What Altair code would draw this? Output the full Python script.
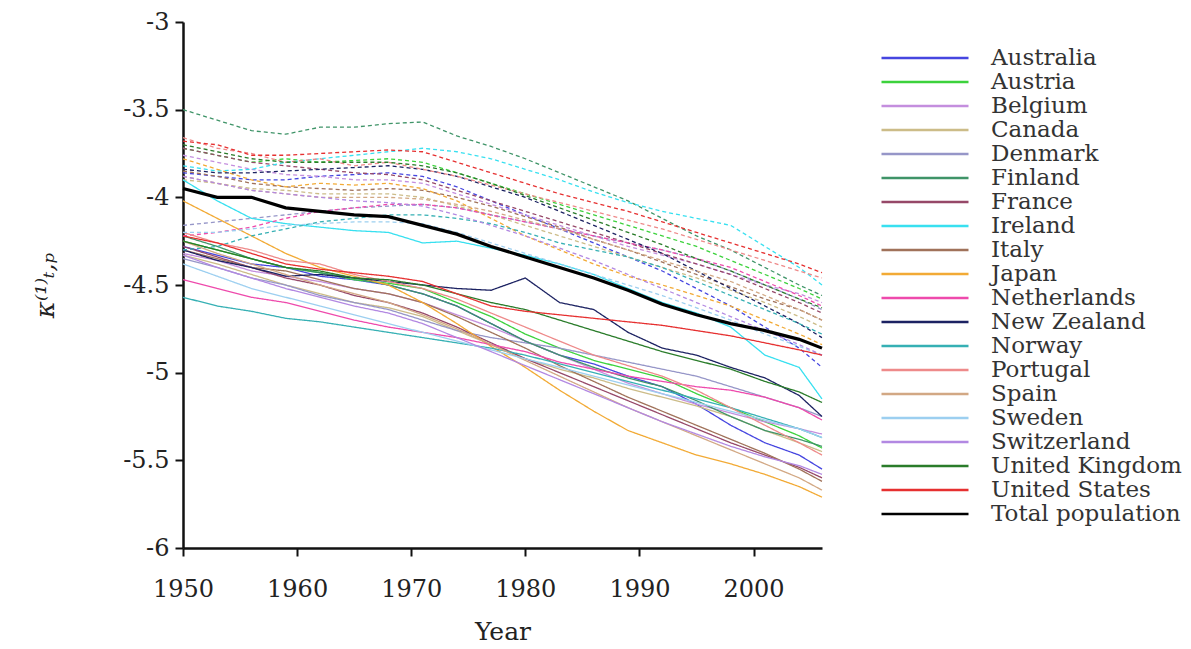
import altair as alt
import pandas as pd

YEARS = [1950, 1953, 1956, 1959, 1962, 1965, 1968, 1971, 1974, 1977,
         1980, 1983, 1986, 1989, 1992, 1995, 1998, 2001, 2004, 2006]

COUNTRIES = ["Australia", "Austria", "Belgium", "Canada", "Denmark", "Finland",
             "France", "Ireland", "Italy", "Japan", "Netherlands", "New Zealand",
             "Norway", "Portugal", "Spain", "Sweden", "Switzerland",
             "United Kingdom", "United States"]
TOTAL = "Total population"
COLORS = ["#4646e0", "#3cd23c", "#c48ede", "#ccbc88", "#9696c8", "#3f9468",
          "#964868", "#38e0f0", "#a0725a", "#f2aa35", "#ee4aac", "#1c2262",
          "#36b0b4", "#ee8a8a", "#d2a884", "#9ccff0", "#b288e2",
          "#2a7c2a", "#e63030", "#000000"]

# female (solid) series
australia_f = [-4.28, -4.33, -4.38, -4.40, -4.45, -4.47, -4.50, -4.55, -4.62, -4.72, -4.82, -4.90, -4.95, -5.02, -5.08, -5.18, -5.30, -5.40, -5.47, -5.55]
austria_f = [-4.25, -4.30, -4.35, -4.40, -4.43, -4.47, -4.49, -4.52, -4.60, -4.68, -4.78, -4.86, -4.93, -4.98, -5.03, -5.12, -5.20, -5.28, -5.36, -5.43]
belgium_f = [-4.32, -4.36, -4.42, -4.45, -4.48, -4.52, -4.55, -4.60, -4.67, -4.74, -4.82, -4.90, -4.98, -5.06, -5.12, -5.18, -5.23, -5.28, -5.32, -5.35]
canada_f = [-4.33, -4.38, -4.44, -4.50, -4.55, -4.60, -4.63, -4.68, -4.76, -4.84, -4.92, -4.98, -5.03, -5.09, -5.14, -5.19, -5.25, -5.33, -5.40, -5.45]
denmark_f = [-4.35, -4.40, -4.46, -4.50, -4.56, -4.60, -4.64, -4.70, -4.76, -4.80, -4.83, -4.86, -4.90, -4.94, -4.98, -5.02, -5.08, -5.14, -5.20, -5.25]
finland_f = [-4.22, -4.28, -4.35, -4.40, -4.43, -4.46, -4.50, -4.55, -4.62, -4.72, -4.82, -4.90, -4.97, -5.03, -5.08, -5.16, -5.25, -5.33, -5.38, -5.42]
france_f = [-4.28, -4.34, -4.40, -4.46, -4.50, -4.56, -4.60, -4.66, -4.74, -4.83, -4.92, -5.00, -5.08, -5.16, -5.24, -5.32, -5.40, -5.47, -5.54, -5.60]
ireland_f = [-3.90, -4.02, -4.12, -4.15, -4.17, -4.19, -4.20, -4.26, -4.25, -4.29, -4.33, -4.38, -4.44, -4.52, -4.60, -4.66, -4.74, -4.90, -4.97, -5.15]
italy_f = [-4.30, -4.35, -4.40, -4.42, -4.47, -4.52, -4.55, -4.60, -4.68, -4.77, -4.86, -4.96, -5.05, -5.14, -5.22, -5.30, -5.38, -5.46, -5.55, -5.62]
japan_f = [-4.02, -4.12, -4.22, -4.32, -4.40, -4.45, -4.50, -4.60, -4.72, -4.85, -4.97, -5.10, -5.22, -5.33, -5.40, -5.47, -5.52, -5.58, -5.65, -5.71]
netherlands_f = [-4.47, -4.52, -4.57, -4.60, -4.65, -4.70, -4.74, -4.77, -4.80, -4.84, -4.88, -4.94, -4.98, -5.02, -5.05, -5.08, -5.10, -5.14, -5.20, -5.27]
new_zealand_f = [-4.30, -4.36, -4.40, -4.45, -4.44, -4.46, -4.48, -4.50, -4.52, -4.53, -4.46, -4.60, -4.64, -4.77, -4.86, -4.90, -4.97, -5.03, -5.13, -5.25]
norway_f = [-4.57, -4.62, -4.65, -4.69, -4.71, -4.74, -4.77, -4.80, -4.83, -4.86, -4.90, -4.95, -5.00, -5.05, -5.10, -5.15, -5.20, -5.26, -5.32, -5.37]
portugal_f = [-4.20, -4.26, -4.30, -4.36, -4.38, -4.44, -4.48, -4.52, -4.58, -4.66, -4.74, -4.82, -4.90, -4.96, -5.02, -5.10, -5.20, -5.30, -5.40, -5.47]
spain_f = [-4.25, -4.32, -4.38, -4.44, -4.50, -4.55, -4.60, -4.67, -4.75, -4.84, -4.93, -5.02, -5.11, -5.20, -5.28, -5.36, -5.44, -5.52, -5.60, -5.67]
sweden_f = [-4.38, -4.45, -4.52, -4.57, -4.62, -4.67, -4.72, -4.77, -4.82, -4.87, -4.92, -4.97, -5.02, -5.07, -5.12, -5.17, -5.22, -5.27, -5.32, -5.37]
switzerland_f = [-4.33, -4.40, -4.46, -4.52, -4.57, -4.62, -4.66, -4.72, -4.80, -4.88, -4.96, -5.04, -5.12, -5.20, -5.28, -5.35, -5.42, -5.48, -5.53, -5.58]
uk_f = [-4.25, -4.30, -4.35, -4.40, -4.42, -4.46, -4.47, -4.50, -4.55, -4.60, -4.64, -4.70, -4.76, -4.82, -4.88, -4.93, -4.98, -5.05, -5.11, -5.17]
us_f = [-4.22, -4.26, -4.32, -4.38, -4.41, -4.43, -4.45, -4.48, -4.55, -4.62, -4.65, -4.67, -4.69, -4.71, -4.73, -4.76, -4.79, -4.83, -4.87, -4.90]

# male (dashed) series
australia_m = [-3.86, -3.88, -3.90, -3.90, -3.88, -3.87, -3.86, -3.88, -3.94, -4.02, -4.10, -4.18, -4.26, -4.34, -4.42, -4.52, -4.62, -4.74, -4.86, -4.97]
austria_m = [-3.72, -3.76, -3.80, -3.78, -3.80, -3.79, -3.78, -3.80, -3.86, -3.92, -3.98, -4.04, -4.10, -4.16, -4.22, -4.28, -4.36, -4.44, -4.52, -4.58]
belgium_m = [-3.76, -3.80, -3.84, -3.87, -3.88, -3.90, -3.90, -3.92, -3.98, -4.04, -4.10, -4.16, -4.22, -4.28, -4.33, -4.38, -4.44, -4.50, -4.55, -4.60]
canada_m = [-3.90, -3.92, -3.95, -3.96, -3.98, -3.98, -3.98, -4.00, -4.05, -4.10, -4.16, -4.22, -4.28, -4.34, -4.40, -4.46, -4.53, -4.60, -4.68, -4.74]
denmark_m = [-4.16, -4.14, -4.12, -4.10, -4.08, -4.06, -4.05, -4.04, -4.06, -4.10, -4.14, -4.18, -4.22, -4.26, -4.30, -4.35, -4.42, -4.50, -4.58, -4.64]
finland_m = [-3.50, -3.56, -3.62, -3.64, -3.60, -3.60, -3.58, -3.57, -3.65, -3.71, -3.78, -3.86, -3.94, -4.02, -4.12, -4.22, -4.30, -4.40, -4.50, -4.56]
france_m = [-3.72, -3.76, -3.80, -3.82, -3.84, -3.86, -3.87, -3.90, -3.96, -4.02, -4.08, -4.14, -4.20, -4.26, -4.32, -4.38, -4.44, -4.52, -4.60, -4.66]
ireland_m = [-3.82, -3.85, -3.84, -3.80, -3.78, -3.76, -3.74, -3.72, -3.74, -3.78, -3.84, -3.90, -3.97, -4.03, -4.08, -4.12, -4.16, -4.28, -4.40, -4.50]
italy_m = [-3.85, -3.88, -3.92, -3.94, -3.95, -3.96, -3.95, -3.96, -4.00, -4.05, -4.11, -4.17, -4.24, -4.30, -4.37, -4.44, -4.51, -4.58, -4.64, -4.70]
japan_m = [-3.78, -3.84, -3.90, -3.94, -3.92, -3.93, -3.92, -3.95, -4.02, -4.12, -4.22, -4.30, -4.38, -4.45, -4.50, -4.56, -4.62, -4.70, -4.78, -4.84]
netherlands_m = [-4.22, -4.20, -4.17, -4.12, -4.08, -4.06, -4.04, -4.04, -4.06, -4.10, -4.14, -4.18, -4.22, -4.26, -4.30, -4.35, -4.40, -4.48, -4.56, -4.62]
new_zealand_m = [-3.84, -3.86, -3.86, -3.85, -3.84, -3.83, -3.82, -3.84, -3.88, -3.94, -4.00, -4.08, -4.16, -4.24, -4.32, -4.42, -4.52, -4.62, -4.72, -4.80]
norway_m = [-4.30, -4.28, -4.22, -4.18, -4.14, -4.12, -4.10, -4.10, -4.12, -4.15, -4.20, -4.26, -4.30, -4.34, -4.40, -4.48, -4.56, -4.64, -4.72, -4.78]
portugal_m = [-3.66, -3.72, -3.75, -3.80, -3.78, -3.82, -3.80, -3.84, -3.88, -3.93, -3.98, -4.03, -4.08, -4.13, -4.18, -4.24, -4.30, -4.36, -4.42, -4.46]
spain_m = [-3.88, -3.92, -3.96, -3.98, -4.00, -4.00, -4.00, -4.01, -4.04, -4.08, -4.13, -4.18, -4.24, -4.30, -4.36, -4.42, -4.48, -4.56, -4.64, -4.70]
sweden_m = [-4.20, -4.20, -4.18, -4.16, -4.15, -4.14, -4.14, -4.15, -4.20, -4.26, -4.32, -4.38, -4.44, -4.50, -4.56, -4.63, -4.70, -4.78, -4.85, -4.90]
switzerland_m = [-3.88, -3.92, -3.96, -3.98, -4.00, -4.02, -4.03, -4.05, -4.10, -4.16, -4.22, -4.29, -4.36, -4.44, -4.52, -4.60, -4.68, -4.76, -4.84, -4.90]
uk_m = [-3.70, -3.74, -3.78, -3.80, -3.80, -3.80, -3.80, -3.82, -3.86, -3.92, -3.99, -4.06, -4.13, -4.20, -4.27, -4.35, -4.42, -4.50, -4.58, -4.63]
us_m = [-3.68, -3.70, -3.76, -3.76, -3.75, -3.74, -3.73, -3.74, -3.80, -3.86, -3.92, -3.98, -4.03, -4.08, -4.14, -4.20, -4.26, -4.32, -4.38, -4.43]

total_pop = [-3.95, -4.00, -4.00, -4.06, -4.08, -4.10, -4.11, -4.16, -4.21, -4.28, -4.34, -4.40, -4.46, -4.53, -4.61, -4.67, -4.72, -4.76, -4.81, -4.86]

FEMALE = [australia_f, austria_f, belgium_f, canada_f, denmark_f, finland_f, france_f,
          ireland_f, italy_f, japan_f, netherlands_f, new_zealand_f, norway_f,
          portugal_f, spain_f, sweden_f, switzerland_f, uk_f, us_f]
MALE = [australia_m, austria_m, belgium_m, canada_m, denmark_m, finland_m, france_m,
        ireland_m, italy_m, japan_m, netherlands_m, new_zealand_m, norway_m,
        portugal_m, spain_m, sweden_m, switzerland_m, uk_m, us_m]

rows = []
for name, fvals, mvals in zip(COUNTRIES, FEMALE, MALE):
    for yr, v in zip(YEARS, mvals):
        rows.append({"name": name, "sex": "Male", "year": yr, "kappa": v})
    for yr, v in zip(YEARS, fvals):
        rows.append({"name": name, "sex": "Female", "year": yr, "kappa": v})
df = pd.DataFrame(rows)
df_total = pd.DataFrame({"name": TOTAL, "sex": "Total", "year": YEARS, "kappa": total_pop})

FONT = "DejaVu Serif"
domain_names = COUNTRIES + [TOTAL]

x_enc = alt.X("year:Q", scale=alt.Scale(domain=[1950, 2006], nice=False, zero=False),
              axis=alt.Axis(values=[1950, 1960, 1970, 1980, 1990, 2000], format="d",
                            title="Year", grid=False, labelFontSize=24, titleFontSize=25,
                            labelFont=FONT, titleFont=FONT, titleFontWeight="normal",
                            domainColor="#111", domainWidth=2.5, tickColor="#111",
                            tickWidth=2, tickSize=8, labelPadding=21, titlePadding=18,
                            labelColor="#222", titleColor="#222", labelFlush=False))
y_enc = alt.Y("kappa:Q", scale=alt.Scale(domain=[-6, -3], nice=False, zero=False),
              axis=alt.Axis(values=[-6, -5.5, -5, -4.5, -4, -3.5, -3],
                            labelExpr="'' + datum.value",
                            title="κ⁽¹⁾ₜ,ₚ", grid=False, labelFontSize=24, titleFontSize=26,
                            labelFont=FONT, titleFont=FONT, titleFontWeight="normal",
                            titleFontStyle="italic",
                            domainColor="#111", domainWidth=2.5, tickColor="#111",
                            tickWidth=2, tickSize=8, labelPadding=6, titlePadding=64,
                            labelColor="#222", titleColor="#222"))

color_enc = alt.Color("name:N", scale=alt.Scale(domain=domain_names, range=COLORS),
                      sort=domain_names,
                      legend=alt.Legend(title=None, orient="none", legendX=697, legendY=24,
                                        symbolType="stroke", symbolSize=7569,
                                        symbolStrokeWidth=2.5, clipHeight=24, rowPadding=0,
                                        labelFont=FONT, labelFontSize=23, labelColor="#333",
                                        labelOffset=21, padding=0, labelLimit=400))

dash_enc = alt.StrokeDash("sex:N", scale=alt.Scale(domain=["Female", "Male", "Total"],
                                                   range=[[1, 0], [4, 3], [1, 0]]),
                          legend=None)

countries = alt.Chart(df).mark_line(strokeWidth=1.3).encode(
    x=x_enc, y=y_enc, color=color_enc, strokeDash=dash_enc,
    detail="sex:N", order="year:Q")

total = alt.Chart(df_total).mark_line(strokeWidth=3.2).encode(
    x=x_enc, y=y_enc, color=color_enc, order="year:Q")

chart = alt.layer(countries, total).properties(
    width=639, height=526,
    autosize=alt.AutoSizeParams(type="none"),
    padding={"left": 175, "top": 14, "right": 360, "bottom": 100},
).configure_view(stroke=None)

chart.save("out.html", embed_options={"renderer": "svg", "actions": False})
